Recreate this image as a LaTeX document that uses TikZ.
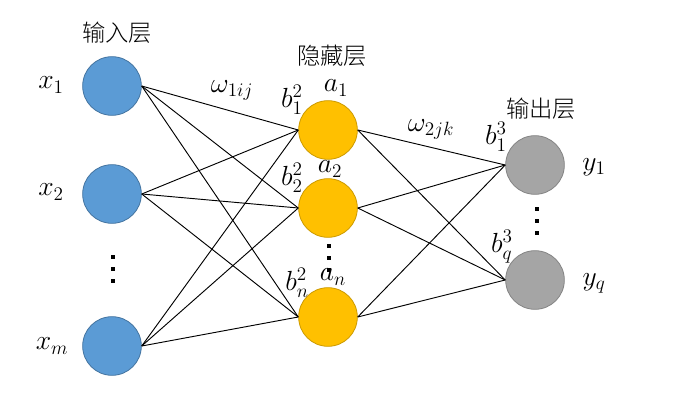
\documentclass[tikz,border=0pt]{standalone}
\usepackage{fontspec}
\newfontfamily\cjk{Noto Sans CJK SC}[UprightFont={* Light}]
\usetikzlibrary{positioning}
\definecolor{neuronblue}{HTML}{5B9BD5}
\definecolor{neuronorange}{HTML}{FFC000}
\definecolor{neurongray}{HTML}{A5A5A5}
\tikzset{
  neuron/.style={circle,inner sep=0pt,minimum size=44pt,line width=.6pt},
  inputneuron/.style={neuron,draw=neuronblue!75!black,fill=neuronblue},
  hiddenneuron/.style={neuron,draw=neuronorange!80!black,fill=neuronorange},
  outputneuron/.style={neuron,draw=neurongray!80!black,fill=neurongray},
  layertitle/.style={font=\cjk\fontsize{17.5}{20}\selectfont,inner sep=0pt},
  mathlabel/.style={font=\fontsize{20}{24}\selectfont,inner sep=0pt},
  dotmark/.style={rectangle,fill=black,inner sep=0pt,minimum size=3pt},
  synapse/.style={line width=.7pt},
}

\begin{document}
\begin{tikzpicture}[x=0.75pt,y=-0.75pt]
    \useasboundingbox (0,0) rectangle (688,420);
    % neurons
    \node[inputneuron] (i1) at (112,86) {};
    \node[inputneuron] (i2) at (112,194) {};
    \node[inputneuron] (im) at (112,346) {};
    \node[hiddenneuron] (h1) at (328,130) {};
    \node[hiddenneuron] (h2) at (328,208) {};
    \node[hiddenneuron] (hn) at (328,317) {};
    \node[outputneuron] (o1) at (535,165) {};
    \node[outputneuron] (oq) at (535,280) {};
    % connections
    \foreach \i in {i1,i2,im}
      \foreach \h in {h1,h2,hn}
        \draw[synapse] (\i.east)--(\h.west);
    \foreach \h in {h1,h2,hn}
      \foreach \o in {o1,oq}
        \draw[synapse] (\h.east)--(\o.west);
    % layer titles
    \node[layertitle] (tin) at (117,33) {输入层};
    \node[layertitle] (thid) at (332,56) {隐藏层};
    \node[layertitle] (tout) at (541,109) {输出层};
    % labels
    \node[mathlabel] (lx1) at (51,85) {$x_1$};
    \node[mathlabel] (lx2) at (51,192) {$x_2$};
    \node[mathlabel] (lxm) at (52,346) {$x_m$};
    \node[mathlabel] (w1) at (232,90) {$\omega_{1ij}$};
    \node[mathlabel] (w2) at (431,129) {$\omega_{2jk}$};
    \node[mathlabel] (lb1) at (292,100) {$b_1^2$};
    \node[mathlabel] (la1) at (336,88) {$a_1$};
    \node[mathlabel] (lb2) at (292,178) {$b_2^2$};
    \node[mathlabel] (la2) at (330,169) {$a_2$};
    \node[mathlabel] (lbn) at (297,283) {$b_n^2$};
    \node[mathlabel] (lan) at (333,277) {$a_n$};
    \node[mathlabel] (lc1) at (496,137) {$b_1^3$};
    \node[mathlabel] (lcq) at (502,247) {$b_q^3$};
    \node[mathlabel] (ly1) at (594,167) {$y_1$};
    \node[mathlabel] (lyq) at (594,283) {$y_q$};
    % dots
    \foreach \x/\y [count=\n] in {113/257,329/246,537/209}
      \foreach \k in {0,1,2}
        \node[dotmark] (dot\n\k) at (\x,\y+12*\k) {};
  \end{tikzpicture}
\end{document}
